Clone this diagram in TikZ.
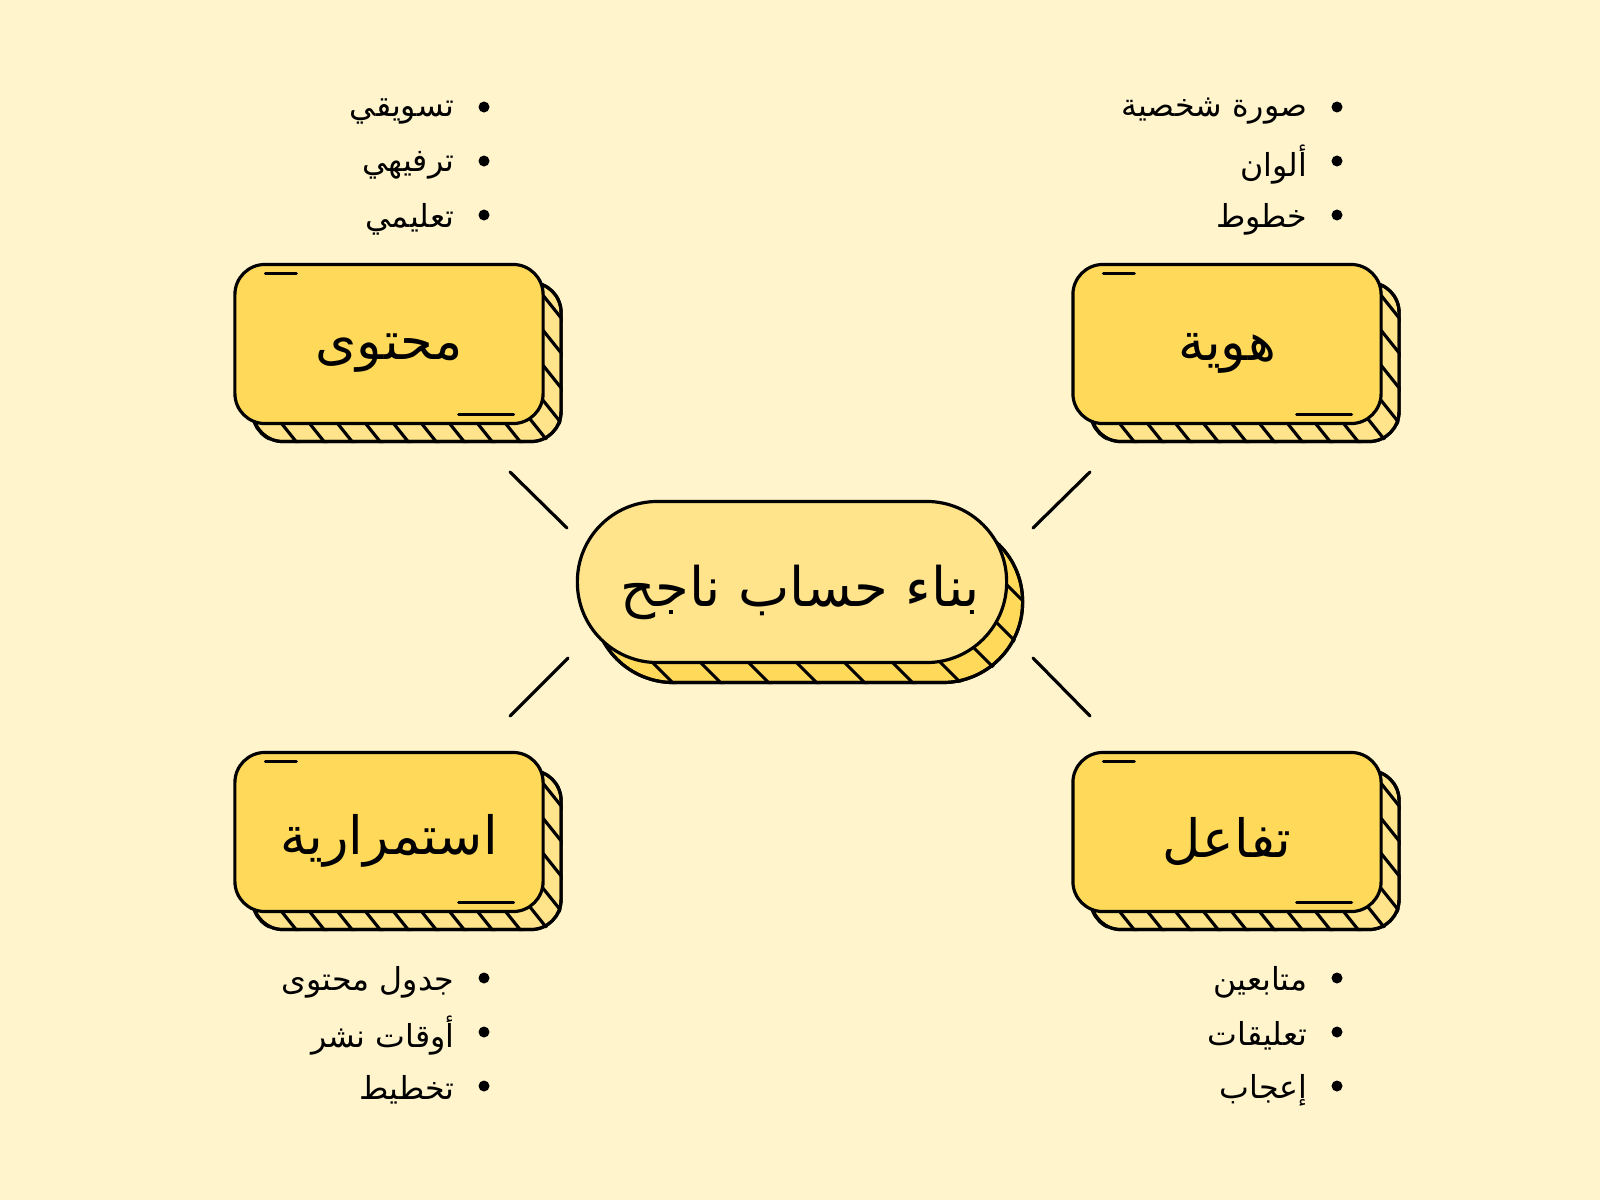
\documentclass[tikz,border=0pt]{standalone}
\usepackage{fontspec}
\newfontfamily\arabicfont[Script=Arabic]{DejaVu Sans}
\TeXXeTstate=1
\definecolor{bgc}{HTML}{FFF4CC}
\definecolor{boxY}{HTML}{FFD95A}
\definecolor{lightY}{HTML}{FFE48C}
\newcommand\artxt[1]{\beginR #1\endR}
\newcommand\mkbox[4]{%
  \node[boxshadow] (#1s) at (#2+18,#3+18) {};
  \begin{scope}
    \clip[rounded corners=0.3cm] (#1s.south west) rectangle (#1s.north east);
    \foreach \k in {-301,-273,...,371} \draw[hatch] (#2-154+\k,#3-110) -- ++(184,230);
  \end{scope}
  \node[boxshadow, fill=none] at (#2+18,#3+18) {};
  \node[boxnode] (#1) at (#2,#3) {};
  \node[boxtext] (#1t) at (#2,#3+9) {\artxt{#4}};
  \draw[ol] ([xshift=0.32cm, yshift=-0.11cm]#1.north west) -- ++(31,0);
  \draw[ol] ([xshift=-0.31cm, yshift=0.11cm]#1.south east) -- ++(-55,0);
}
\begin{document}
\begin{tikzpicture}[x=0.01cm,y=-0.01cm,
  ol/.style={draw=black, line width=0.9pt, line cap=round},
  hatch/.style={draw=black, line width=0.9pt},
  boxnode/.style={draw=black, line width=0.9pt, fill=boxY, rounded corners=0.3cm, minimum width=3.08cm, minimum height=1.59cm, inner sep=0pt},
  boxtext/.style={inner sep=0pt, font=\arabicfont\fontsize{15}{18}\selectfont},
  boxshadow/.style={draw=black, line width=0.9pt, fill=lightY, rounded corners=0.3cm, minimum width=3.08cm, minimum height=1.59cm, inner sep=0pt},
  pillnode/.style={draw=black, line width=0.9pt, fill=lightY, rounded corners=0.8cm, minimum width=4.29cm, minimum height=1.61cm, inner sep=0pt},
  pilltext/.style={inner sep=0pt, font=\arabicfont\fontsize{15.5}{19}\selectfont},
  pillshadow/.style={draw=black, line width=0.9pt, fill=boxY, rounded corners=0.8cm, minimum width=4.29cm, minimum height=1.61cm, inner sep=0pt},
  item/.style={anchor=east, inner sep=0pt, font=\arabicfont\fontsize{9}{11}\selectfont},
  dot/.style={circle, fill=black, inner sep=0pt, minimum size=0.11cm}
]
\fill[bgc] (0,0) rectangle (1600,1200);
\useasboundingbox (0,0) rectangle (1600,1200);

% connectors
\coordinate (tla) at (510,472); \coordinate (tlb) at (567,528);
\coordinate (tra) at (1090,472); \coordinate (trb) at (1033,528);
\coordinate (bla) at (510,716); \coordinate (blb) at (568,658);
\coordinate (bra) at (1090,716); \coordinate (brb) at (1033,658);
\draw[ol] (tla) -- (tlb);
\draw[ol] (tra) -- (trb);
\draw[ol] (bla) -- (blb);
\draw[ol] (bra) -- (brb);

% boxes
\mkbox{content}{389}{344}{محتوى}
\mkbox{identity}{1227}{344}{هوية}
\mkbox{cont}{389}{832}{استمرارية}
\mkbox{inter}{1227}{832}{تفاعل}

% center pill
\node[pillshadow] (pills) at (808,602) {};
\begin{scope}
  \clip[rounded corners=0.8cm] (pills.south west) rectangle (pills.north east);
  \foreach \k in {-300,-252,...,500} \draw[hatch] (578+\k,480) -- ++(260,260);
\end{scope}
\node[pillshadow, fill=none] at (808,602) {};
\node[pillnode] (pill) at (792,582) {};
\node[pilltext] (pillt) at (800,592) {\artxt{بناء حساب ناجح}};

% lists
\node[item] (a1) at (455,111) {\artxt{تسويقي}};
\node[item] (a2) at (455,165) {\artxt{ترفيهي}};
\node[item] (a3) at (455,219) {\artxt{تعليمي}};
\node[dot] (da1) at (484,107) {};
\node[dot] (da2) at (484,161) {};
\node[dot] (da3) at (484,215) {};

\node[item] (b1) at (1308,111) {\artxt{صورة شخصية}};
\node[item] (b2) at (1308,165) {\artxt{ألوان}};
\node[item] (b3) at (1308,219) {\artxt{خطوط}};
\node[dot] (db1) at (1337,107) {};
\node[dot] (db2) at (1337,161) {};
\node[dot] (db3) at (1337,215) {};

\node[item] (c1) at (455,982) {\artxt{جدول محتوى}};
\node[item] (c2) at (455,1036) {\artxt{أوقات نشر}};
\node[item] (c3) at (455,1090) {\artxt{تخطيط}};
\node[dot] (dc1) at (484,978) {};
\node[dot] (dc2) at (484,1032) {};
\node[dot] (dc3) at (484,1086) {};

\node[item] (e1) at (1308,982) {\artxt{متابعين}};
\node[item] (e2) at (1308,1036) {\artxt{تعليقات}};
\node[item] (e3) at (1308,1090) {\artxt{إعجاب}};
\node[dot] (de1) at (1337,978) {};
\node[dot] (de2) at (1337,1032) {};
\node[dot] (de3) at (1337,1086) {};
\end{tikzpicture}
\end{document}
